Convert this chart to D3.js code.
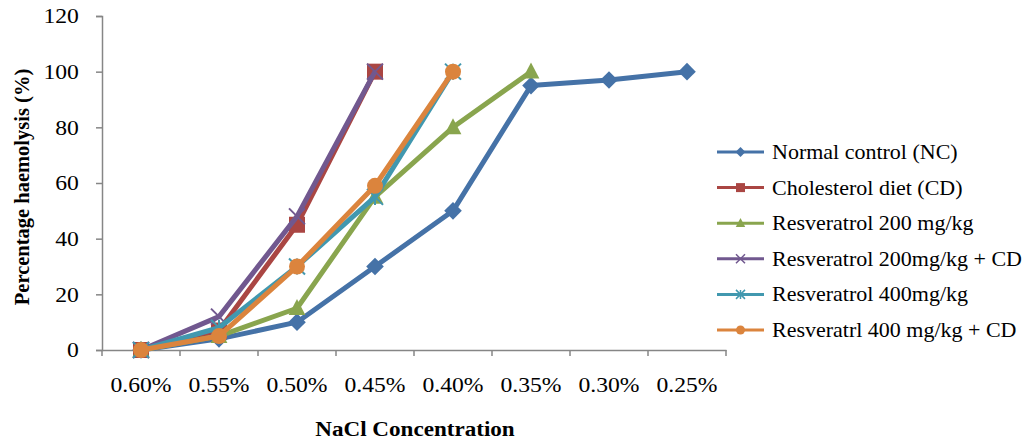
<!DOCTYPE html>
<html><head><meta charset="utf-8">
<script src="https://cdn.jsdelivr.net/npm/d3@7"></script>
<style>body{margin:0;background:#fff;} svg{display:block;} text{font-family:"Liberation Serif","Times New Roman",serif;fill:#000;}</style>
</head><body><svg id="c" width="1026" height="441"></svg>
<script>
const categories = ["0.60%","0.55%","0.50%","0.45%","0.40%","0.35%","0.30%","0.25%"];
const yTicks = [0,20,40,60,80,100,120];
const seriesNames = ["Normal control (NC)","Cholesterol diet (CD)","Resveratrol 200 mg/kg","Resveratrol 200mg/kg + CD","Resveratrol 400mg/kg","Resveratrl 400 mg/kg + CD"];
const nc      = [0,4,10,30,50,95,97,100];
const cd      = [0,7,45,100];
const r200    = [0,5,15,55,80,100];
const r200cd  = [0,12,48,100];
const r400    = [0,8,30,55,100];
const r400cd  = [0,5,30,59,100];
const seriesValues = [nc,cd,r200,r200cd,r400,r400cd];
const colors = ["#4572A7","#AA4643","#89A54E","#71588F","#4198AF","#DB843D"];
const markers = ["diamond","square","triangle","x","star","circle"];

const svg = d3.select("#c");
const L=102, R=726, T=16, B=350;
const SX=1.1; // horizontal stretch of text in the reference
const x = d3.scaleBand().domain(categories).range([L,R]);
const y = d3.scaleLinear().domain([0,120]).range([B,T]);
const cx = c => x(c)+x.bandwidth()/2;

const axisColor="#868686";
const gy = svg.append("g").attr("transform",`translate(${L},0)`)
  .call(d3.axisLeft(y).tickValues(yTicks).tickSize(6).tickPadding(15));
const gx = svg.append("g").attr("transform",`translate(0,${B})`)
  .call(d3.axisBottom(x).tickSize(0).tickPadding(27));
[gy,gx].forEach(g=>{g.select(".domain").attr("stroke",axisColor).attr("stroke-width",1.5);
  g.selectAll(".tick line").attr("stroke",axisColor).attr("stroke-width",1.5);
  g.selectAll("text").attr("font-size",21.5).attr("font-family","Liberation Serif").attr("transform",`scale(${SX},1)`);});
gx.selectAll(".bnd").data(d3.range(categories.length+1)).enter().append("line")
  .attr("x1",i=>L+i*x.bandwidth()).attr("x2",i=>L+i*x.bandwidth())
  .attr("y1",0).attr("y2",6).attr("stroke",axisColor).attr("stroke-width",1.5);

function drawMarker(g, type, px, py, s, color, sw){
  const h=s/2;
  if(type==="diamond") g.append("path").attr("d",`M${px},${py-h*1.1}L${px+h*1.1},${py}L${px},${py+h*1.1}L${px-h*1.1},${py}Z`).attr("fill",color);
  else if(type==="square") g.append("rect").attr("x",px-h).attr("y",py-h).attr("width",s).attr("height",s).attr("fill",color);
  else if(type==="triangle") g.append("path").attr("d",`M${px},${py-h*1.15}L${px+h*1.05},${py+h*0.85}L${px-h*1.05},${py+h*0.85}Z`).attr("fill",color);
  else if(type==="circle") g.append("circle").attr("cx",px).attr("cy",py).attr("r",h).attr("fill",color);
  else if(type==="x") g.append("path").attr("d",`M${px-h},${py-h}L${px+h},${py+h}M${px+h},${py-h}L${px-h},${py+h}`).attr("stroke",color).attr("stroke-width",sw);
  else if(type==="star") g.append("path").attr("d",`M${px-h},${py-h}L${px+h},${py+h}M${px+h},${py-h}L${px-h},${py+h}M${px},${py-h}L${px},${py+h}`).attr("stroke",color).attr("stroke-width",sw);
}

const line = d3.line().x((d,i)=>cx(categories[i])).y(d=>y(d));
seriesValues.forEach((vals,si)=>{
  const g = svg.append("g");
  g.append("path").attr("d",line(vals)).attr("fill","none").attr("stroke",colors[si])
    .attr("stroke-width",5).attr("stroke-linejoin","round");
  vals.forEach((v,i)=>drawMarker(g,markers[si],cx(categories[i]),y(v),16,colors[si],2));
});

const lg = svg.append("g");
seriesNames.forEach((n,i)=>{
  const yy = 152 + i*35.6;
  lg.append("line").attr("x1",717).attr("x2",764).attr("y1",yy).attr("y2",yy).attr("stroke",colors[i]).attr("stroke-width",3);
  drawMarker(lg,markers[i],740.5,yy,9,colors[i],1.5);
  lg.append("text").attr("transform",`translate(772,${yy+7}) scale(${SX},1)`).attr("font-size",20).text(n);
});

svg.append("text").attr("transform",`translate(415,436) scale(${SX},1)`).attr("text-anchor","middle").attr("font-size",21).attr("font-weight","bold").text("NaCl Concentration");
svg.append("text").attr("transform","translate(29,187) rotate(-90)").attr("text-anchor","middle").attr("font-size",20.5).attr("font-weight","bold").text("Percentage haemolysis (%)");
</script></body></html>
